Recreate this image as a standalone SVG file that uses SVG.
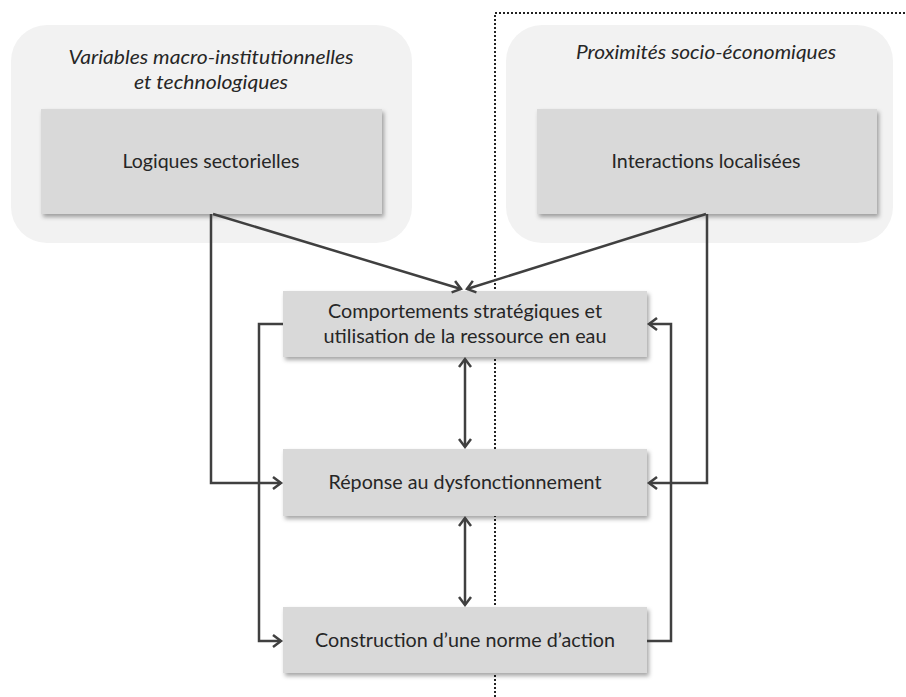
<svg xmlns="http://www.w3.org/2000/svg" width="906" height="697" viewBox="0 0 906 697">
<defs>
<style>
.cont{fill:#f2f2f2;stroke:none}
.box{fill:#d9d9d9;stroke:none;filter:url(#sh)}
.t{font-family:Lato,"Open Sans","Liberation Sans",sans-serif;font-size:19px;fill:#262626;text-anchor:middle}
.ti{font-style:italic}
.c{fill:none;stroke:#404040;stroke-width:2.5;stroke-linejoin:miter}
.dot{fill:none;stroke:#222;stroke-width:2;stroke-dasharray:2 2}
</style>
<filter id="sh" x="-10%" y="-10%" width="125%" height="140%">
<feDropShadow dx="2" dy="3" stdDeviation="2" flood-color="#000" flood-opacity="0.35"/>
</filter>
<marker id="ah" markerUnits="userSpaceOnUse" markerWidth="16" markerHeight="16" viewBox="0 0 16 16" refX="13" refY="8" orient="auto-start-reverse">
<path d="M5,2 L13,8 L5,14" fill="none" stroke="#404040" stroke-width="2.5"/>
</marker>
</defs>
<rect width="906" height="697" fill="#ffffff"/>
<g id="separator">
<path class="dot" d="M495,697 L495,13 L906,13"/>
</g>
<g id="macro">
<rect class="cont" x="11" y="25" width="401" height="218" rx="36"/>
<text class="t ti" x="211" y="64" textLength="285" lengthAdjust="spacingAndGlyphs">Variables macro-institutionnelles</text>
<text class="t ti" x="211" y="89" textLength="154" lengthAdjust="spacingAndGlyphs">et technologiques</text>
</g>
<g id="proximites">
<rect class="cont" x="506" y="25" width="387" height="218" rx="36"/>
<text class="t ti" x="706" y="59" textLength="260" lengthAdjust="spacingAndGlyphs">Proximités socio-économiques</text>
</g>
<g id="logiques">
<rect class="box" x="41" y="109" width="341" height="105"/>
<text class="t" x="211" y="168" textLength="177" lengthAdjust="spacingAndGlyphs">Logiques sectorielles</text>
</g>
<g id="interactions">
<rect class="box" x="537" y="109" width="340" height="105"/>
<text class="t" x="706" y="168" textLength="189" lengthAdjust="spacingAndGlyphs">Interactions localisées</text>
</g>
<g id="comportements">
<rect class="box" x="283" y="291" width="364" height="66"/>
<text class="t" x="465" y="318" textLength="274" lengthAdjust="spacingAndGlyphs">Comportements stratégiques et</text>
<text class="t" x="465" y="343" textLength="283" lengthAdjust="spacingAndGlyphs">utilisation de la ressource en eau</text>
</g>
<g id="reponse">
<rect class="box" x="283" y="449" width="364" height="67"/>
<text class="t" x="465" y="489" textLength="273" lengthAdjust="spacingAndGlyphs">Réponse au dysfonctionnement</text>
</g>
<g id="construction">
<rect class="box" x="283" y="607" width="364" height="66"/>
<text class="t" x="465" y="647" textLength="300" lengthAdjust="spacingAndGlyphs">Construction d’une norme d’action</text>
</g>
<g id="connectors">
<path class="c" d="M211,214 L211,483 L281,483" marker-end="url(#ah)"/>
<path class="c" d="M213,214 L461,289" marker-end="url(#ah)"/>
<path class="c" d="M706,214 L467,289" marker-end="url(#ah)"/>
<path class="c" d="M707,214 L707,483 L649,483" marker-end="url(#ah)"/>
<path class="c" d="M283,324 L259,324 L259,641 L281,641" marker-end="url(#ah)"/>
<path class="c" d="M647,641 L671,641 L671,324 L649,324" marker-end="url(#ah)"/>
<path class="c" d="M465,359 L465,447" marker-start="url(#ah)" marker-end="url(#ah)"/>
<path class="c" d="M465,518 L465,605" marker-start="url(#ah)" marker-end="url(#ah)"/>
</g>
</svg>
